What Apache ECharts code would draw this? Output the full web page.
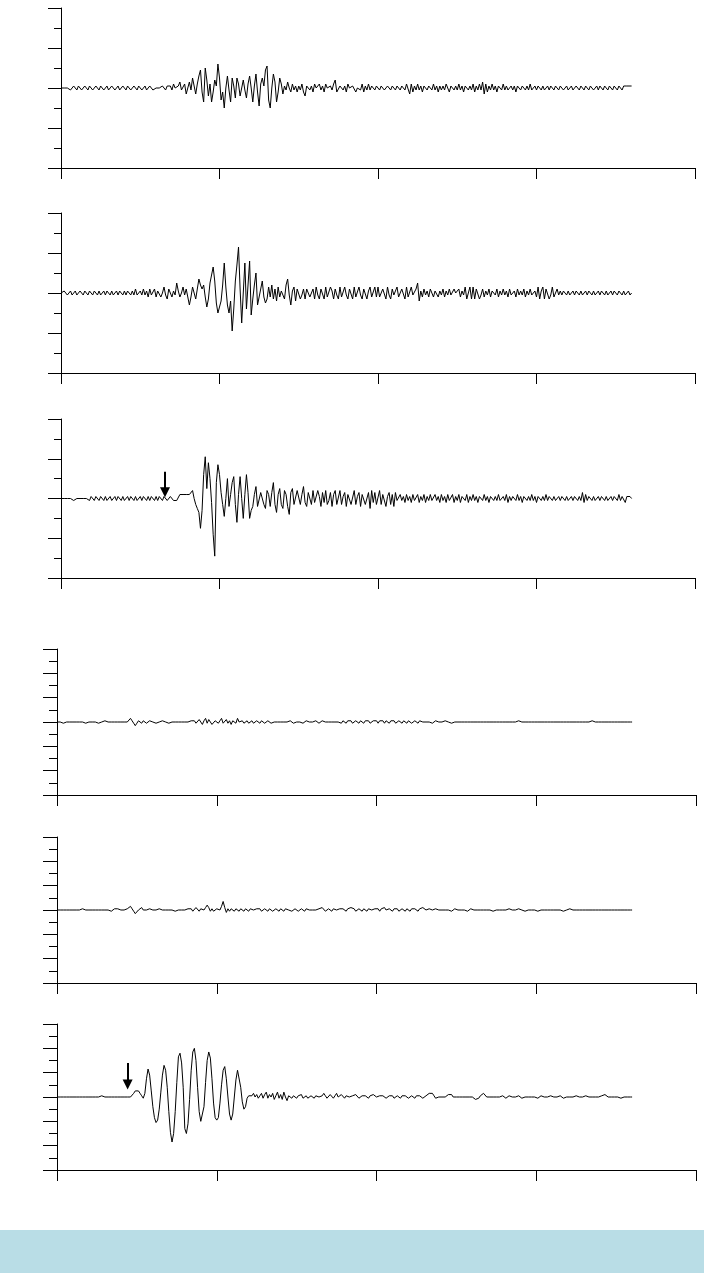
<!DOCTYPE html>
<html>
<head>
<meta charset="utf-8">
<script src="https://cdn.jsdelivr.net/npm/echarts/dist/echarts.min.js"></script>
<style>
html,body{margin:0;padding:0;background:#fff;}
#chart{position:absolute;left:0;top:0;width:704px;height:1230px;}
#band{position:absolute;left:0;top:1230px;width:704px;height:43px;background:#b9dde6;}
</style>
</head>
<body>
<div id="chart"></div>
<div id="band"></div>
<script>
// sample spacing along the time axis (axis units)
const T_STEP = 0.5;
const X_TICKS = [0, 50, 100, 150, 200];

// Trace 1 (top panel)
const trace1 = [
0,1,0,-1,0,1,-1,0,1,0,-1,1,0,-1,0,1,0,-1,1,0,
-1,0,1,0,-1,1,0,-1,0,1,-1,0,1,0,-1,0,1,-1,0,1,
0,-1,1,0,-1,0,1,0,-1,1,0,-1,0,1,-1,0,1,0,-1,0,
0,1,0,-1,1,0,-1,1,0,1,-1,2,0,-1,1,3,-1,-2,2,-3,
-2,3,-1,5,1,-3,2,6,9,-2,-7,10,4,-4,2,-7,-2,4,1,12,
5,-6,-2,-10,0,6,-1,-7,5,1,-5,5,2,-4,0,4,-1,-5,2,6,
0,-7,1,7,-2,-9,2,5,1,9,11,-6,-10,0,7,3,-7,-2,5,2,
-3,1,-1,3,0,-2,2,-1,1,-2,1,-1,2,-2,-4,1,2,-1,1,-2,
2,0,-1,2,-1,1,-2,2,0,-1,1,-1,2,4,-2,-3,1,2,-1,1,
-2,2,0,-1,1,2,-2,0,1,-1,2,-2,1,-1,2,-1,1,0,-1,1,
0,-1,1,0,-1,0,1,0,-1,1,0,-1,1,0,-1,1,0,-1,2,3,
-3,2,-2,1,-1,2,-1,1,-2,1,0,-1,1,0,-1,2,-1,1,-2,1,
-1,1,-1,2,0,-2,1,0,-1,1,-1,2,-1,1,-2,1,0,-1,1,-1,
2,-2,1,-1,2,-1,3,-3,2,-2,1,-1,2,-1,1,-2,1,0,-1,2,
-1,1,-1,0,1,-1,1,-2,1,0,-1,1,0,-1,1,-1,2,-1,0,1,
-1,1,0,-1,1,-1,0,1,-1,1,0,-1,1,0,-1,1,0,-1,0,1,
-1,0,1,-1,0,1,0,-1,1,0,-1,1,0,-1,1,0,-1,0,1,-1,
1,0,-1,1,0,-1,1,0,-1,1,0,-1,1,0,-1,1,0,1,2,1,
1
];

// Trace 2
const trace2 = [
0,-1,1,0,-1,0,1,-1,0,1,-1,0,1,0,-1,1,0,-1,1,0,
-1,1,0,-1,1,-1,0,1,-1,1,0,-1,1,-1,0,1,-1,1,0,-1,
1,-1,1,0,-1,1,-1,2,-1,0,1,-1,2,-1,1,-2,2,-1,0,2,
-2,1,2,-2,0,3,-1,-3,2,3,-2,1,-1,5,1,-2,0,3,-1,2,
1,-6,-2,3,0,-3,2,7,4,2,4,-2,-7,-3,5,9,13,6,-5,-10,
-9,-4,4,15,3,-6,-10,-4,-19,-8,6,14,23,2,-15,0,15,-8,4,16,
-11,-3,4,10,-6,-6,2,6,-2,-5,-3,3,-2,4,-3,2,-4,3,-2,1,
2,-3,4,7,-1,-6,1,3,-4,2,3,-3,-1,2,-3,2,3,-2,-3,2,
-3,3,-1,-3,2,1,-3,3,-2,-2,3,1,-3,2,-1,-3,3,-2,-2,3,
-1,-3,2,1,-3,3,-2,-1,3,-1,-3,2,1,-3,1,3,-2,-2,3,-2,
3,-2,-2,2,1,-3,3,-1,-3,2,-1,-2,3,-2,-2,2,1,-3,3,-2,
-3,3,-1,-2,2,5,-4,1,-2,2,-1,1,-2,2,0,-2,1,2,-2,1,
-1,2,-2,1,-1,2,-1,-2,2,0,-1,2,-2,1,-1,3,-3,-2,3,-3,
3,-3,2,3,-3,-1,2,-2,1,-1,2,-2,1,0,-1,2,-2,1,-1,2,
-1,1,-2,2,-1,0,1,-2,2,-1,1,-1,2,-2,1,-1,2,-1,0,1,
-2,3,-3,1,3,-3,2,3,-3,-1,3,-2,-2,2,-1,1,-1,1,0,-1,
1,-1,0,1,-1,1,0,-1,1,-1,0,1,-1,1,0,-1,1,-1,0,1,
-1,1,0,-1,1,-1,0,1,-1,1,0,-1,1,0,-1,1,-1,0,1,-1,
0
];

// Trace 3 (arrow marks onset)
const trace3 = [
0,0,0,0,0,1,0,0,-1,0,0,1,0,-1,0,1,0,0,-1,1,
0,-1,1,0,-1,1,0,-1,1,-1,0,1,-1,0,1,-1,1,0,-1,1,
-1,0,1,-1,1,0,-1,1,-1,0,1,-1,1,0,-1,1,-1,1,0,-1,
1,-1,1,0,-1,1,0,-1,0,1,0,-1,-2,-1,0,2,1,2,1,2,
1,2,1,4,0,-3,-5,-7,-15,-6,12,21,5,18,10,-2,-18,-29,8,17,
12,3,-3,-9,0,10,-4,2,8,11,-3,-12,2,11,0,-10,2,12,3,-10,
-6,-4,2,6,-4,-5,3,4,-3,-5,4,2,-4,3,8,-3,-7,2,5,-3,
-5,4,2,-4,-8,3,5,-3,-4,4,3,-3,2,6,-2,-4,3,2,-3,4,
-2,-3,4,1,-4,3,-2,4,-3,-1,3,-4,2,4,-3,-2,4,-3,1,3,
-4,2,3,-3,-2,4,-3,1,3,-4,2,3,-3,-2,3,-5,4,-2,3,-3,
-2,4,-3,2,3,-4,1,3,-3,2,-4,3,-1,-2,2,-1,1,-2,2,-1,
1,-2,2,-1,0,2,-2,1,-1,2,-2,1,-1,2,-1,-2,2,-1,1,-2,
2,-1,1,-2,2,-1,0,2,-2,1,-1,2,-2,1,0,-1,2,-2,1,-1,
2,-1,1,-2,1,0,-1,2,-1,1,-2,1,0,-1,1,-1,2,-1,0,1,
-1,2,-2,1,-1,1,0,-1,2,-1,1,-2,1,0,-1,1,-1,2,-1,1,
-2,1,0,-1,1,-1,2,-1,1,0,-1,1,-1,0,1,-1,1,0,-1,1,
-1,0,1,-1,1,0,-1,1,-1,3,-2,2,-1,1,0,-1,1,-1,0,1,
-1,1,0,-1,1,-1,0,1,-1,1,0,-1,2,-1,1,2,-2,1,0,1,
0
];

// Trace 4
const trace4 = [
0,1,0,0,-1,0,0,1,0,0,0,-1,0,1,0,0,0,0,-1,0,
0,1,0,0,0,0,-1,0,0,0,1,0,0,0,0,-1,0,0,0,1,
0,0,0,-1,0,1,3,1,-1,-3,-1,1,0,-1,1,0,-1,0,1,0,
0,0,-1,0,0,0,1,0,0,0,-1,0,0,1,0,0,0,1,0,-1,
0,1,0,-1,1,0,1,-1,0,2,1,-2,1,3,-1,2,1,-2,-1,1,
2,-1,1,3,-1,0,2,-1,1,-2,1,2,-1,3,0,-1,1,-1,0,1,
-1,0,1,-1,0,1,0,-1,1,0,-1,0,1,0,-1,0,0,-1,0,0,
0,1,0,-1,0,0,1,0,-1,0,0,1,0,0,-1,0,1,0,0,-1,
0,0,1,0,-1,0,1,0,0,-1,0,1,0,-1,0,1,0,0,-1,1,
0,-1,1,0,1,-1,0,1,0,-1,1,0,-1,1,0,1,-1,0,1,0,
1,-1,1,0,1,-1,1,0,-1,1,0,1,-1,0,1,0,-1,1,0,-1,
1,0,-1,0,1,0,-1,1,0,0,-1,0,1,0,0,-1,0,1,0,0,
-1,0,0,1,0,0,0,-1,0,0,1,0,0,0,0,0,1,0,0,0,
0,0,0,0,1,0,0,0,0,0,0,0,0,0,0,0,0,0,0,0,
0,0,0,0,0,0,0,0,0,1,0,0,0,0,0,0,0,0,0,0,
0,0,0,0,0,0,0,0,0,0,0,0,1,0,0,0,0,0,0,0,
0,0,0,0,1,0,0,0,0,0,0,0,0,0,0,1,0,0,0,0,
0,0,0,0,0,0,0,0,0,0,0,0,0,0,0,0,0,0,0,0,
0
];

// Trace 5
const trace5 = [
0,0,0,0,0,0,0,0,0,0,0,0,0,0,0,0,1,0,0,0,
0,0,0,0,0,0,0,0,0,1,0,0,0,0,-1,0,1,2,1,0,
0,-1,0,0,1,2,3,1,-1,-3,-2,0,1,2,0,-1,0,0,1,0,
0,-1,0,0,1,0,0,-1,0,0,0,1,0,0,-1,0,0,1,0,0,
0,-1,1,0,1,-1,0,2,1,-1,1,2,0,2,4,2,-1,1,-1,-2,
1,2,0,3,7,2,-2,1,-1,1,0,-1,1,0,-1,1,0,-1,1,0,
-1,1,0,0,-1,1,0,1,-1,0,1,0,-1,1,0,-1,0,1,0,-1,
1,0,-1,1,0,0,1,-1,0,1,0,-1,0,1,0,-1,1,0,0,-1,
0,1,0,-1,1,0,2,1,-1,0,1,0,-1,1,0,0,-1,1,0,1,
0,-1,1,0,2,2,1,-1,0,1,0,-1,1,0,-1,1,0,0,-1,1,
0,1,-1,1,2,2,0,-1,1,0,-1,1,0,1,-1,0,1,0,-1,1,
0,-1,1,0,1,0,-1,1,1,2,1,0,-1,1,0,0,-1,1,0,0,
1,0,-1,0,1,0,0,-1,0,1,0,0,-1,0,1,0,0,-1,0,1,
0,0,-1,0,1,0,0,0,-1,0,1,0,0,-1,0,0,1,0,0,0,
-1,0,0,1,0,0,-1,0,0,1,0,0,0,-1,0,0,1,0,0,0,
0,-1,0,0,1,0,0,0,-1,0,0,0,1,0,0,0,0,-1,0,0,
0,1,0,0,0,0,-1,0,0,0,1,0,0,0,0,0,-1,0,0,0,
0,0,1,0,0,0,0,0,0,0,0,0,0,0,0,0,0,0,0,0,
0
];

// Trace 6 (arrow marks onset)
const trace6 = [
0,-1,0,0,0,0,0,0,0,0,0,0,0,1,0,0,0,0,0,0,
0,0,0,0,0,0,0,0,1,0,0,0,0,0,0,0,0,0,0,0,
0,0,0,1,0,0,0,1,3,5,6,5,3,1,-1,3,15,23,18,5,
-8,-17,-21,-19,-10,4,18,26,22,8,-12,-29,-37,-30,-12,12,33,36,28,8,
-26,-30,-22,-2,22,37,40,30,8,-12,-20,-21,-8,12,30,37,32,15,-5,-17,
-19,-17,-5,10,22,25,15,0,-14,-19,-14,0,14,22,21,8,-4,-10,-8,-1,
1,2,1,3,0,2,-1,1,3,-1,2,4,-1,2,0,3,-2,1,4,-1,
2,-2,4,0,-3,1,2,-1,1,0,-1,1,0,2,-1,0,1,-1,0,1,
0,-1,1,2,0,-1,1,3,1,-1,0,2,1,-1,1,3,0,-1,2,1,
-1,1,2,0,-1,1,0,2,1,-1,0,1,2,1,0,-1,1,0,2,1,
0,-1,1,2,1,0,-1,0,1,2,1,-1,0,1,0,-1,1,2,1,0,
-1,0,1,0,-1,1,0,1,0,-1,0,1,2,3,4,3,1,-1,-1,0,
1,0,-1,0,1,2,3,2,0,-1,0,1,0,-1,0,1,0,-1,0,1,
0,-1,-2,-3,-1,1,2,3,2,0,-1,0,1,0,-1,0,1,0,0,1,
0,-1,0,1,0,0,-1,0,1,1,0,-1,0,0,1,0,-1,0,1,0,
0,-1,0,1,1,0,-1,0,0,1,0,0,-1,0,1,1,0,-1,-1,0,
1,0,-1,0,0,1,0,0,-1,0,0,1,1,0,-1,0,0,0,1,0,
0,1,1,2,1,0,0,0,-1,0,0,0,-1,-1,-1,0,0,0,0,0,
0
];

const traces = [trace1, trace2, trace3, trace4, trace5, trace6];
// y-axis extents per panel
const Y_MIN = [-40, -40, -40, -60, -60, -60];
const Y_MAX = [40, 40, 40, 60, 60, 60];
// onset arrows: [panel, time, top value, end value]
const arrows = [[2, 32.8, 13.5, 3.2], [5, 22.1, 28, 10.3]];

const grids = [
  {left: 61, top: 8, width: 634, height: 160},
  {left: 61, top: 213, width: 634, height: 160},
  {left: 61, top: 419, width: 634, height: 159},
  {left: 57, top: 649, width: 639, height: 146},
  {left: 57, top: 837, width: 639, height: 146},
  {left: 57, top: 1024, width: 639, height: 146}
];

const black = '#000';
const xAxes = grids.map((g, i) => ({
  type: 'value', gridIndex: i, min: X_TICKS[0], max: X_TICKS[X_TICKS.length - 1],
  interval: X_TICKS[1] - X_TICKS[0],
  axisLine: {show: true, onZero: false, lineStyle: {color: black, width: 1}},
  axisTick: {show: true, length: 11, lineStyle: {color: black, width: 1}},
  axisLabel: {show: false},
  splitLine: {show: false}
}));
const yAxes = grids.map((g, i) => ({
  type: 'value', gridIndex: i, min: Y_MIN[i], max: Y_MAX[i], interval: 20,
  axisLine: {show: true, onZero: false, lineStyle: {color: black, width: 1}},
  axisTick: {show: true, length: i < 3 ? 13 : 14, lineStyle: {color: black, width: 1}},
  minorTick: {show: true, splitNumber: 2, length: i < 3 ? 7 : 8, lineStyle: {color: black, width: 1}},
  axisLabel: {show: false},
  splitLine: {show: false},
  minorSplitLine: {show: false}
}));

const series = traces.map((tr, i) => {
  const s = {
    type: 'line', xAxisIndex: i, yAxisIndex: i,
    data: tr.map((v, k) => [k * T_STEP, v]),
    showSymbol: false, symbol: 'none', sampling: null,
    lineStyle: {color: black, width: 1},
    silent: true
  };
  const arr = arrows.filter(a => a[0] === i);
  if (arr.length) {
    s.markLine = {
      silent: true, animation: false,
      symbol: ['none', 'triangle'], symbolSize: 10,
      label: {show: false},
      itemStyle: {color: black},
      lineStyle: {color: black, width: 2, type: 'solid'},
      data: arr.map(a => [{coord: [a[1], a[2]]}, {coord: [a[1], a[3]]}])
    };
  }
  return s;
});

const chart = echarts.init(document.getElementById('chart'), null, {renderer: 'canvas'});
chart.setOption({
  animation: false,
  backgroundColor: '#fff',
  grid: grids,
  xAxis: xAxes,
  yAxis: yAxes,
  series: series
});
</script>
</body>
</html>
